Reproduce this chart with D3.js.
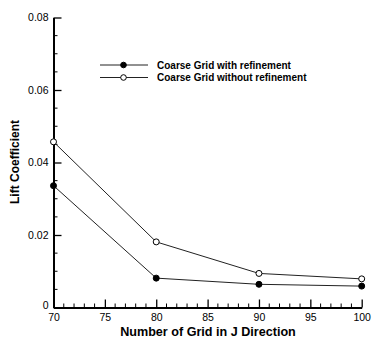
<!DOCTYPE html>
<html>
<head>
<meta charset="utf-8">
<script src="https://cdn.jsdelivr.net/npm/d3@7"></script>
<style>
  html, body { margin: 0; padding: 0; background: #fff; }
  svg { display: block; font-family: "Liberation Sans", Arial, sans-serif; }
</style>
</head>
<body>
<svg id="chart" width="372" height="342"></svg>
<script>
// Grid resolution in the J direction
const gridJ = [70, 80, 90, 100];
// Lift coefficient for each grid
const liftWithRefinement = [0.0336, 0.0081, 0.0064, 0.0059];
const liftWithoutRefinement = [0.0457, 0.0181, 0.0094, 0.0079];
const seriesNames = ["Coarse Grid with refinement", "Coarse Grid without refinement"];
const xTicks = [70, 75, 80, 85, 90, 95, 100];
const yTicks = [0, 0.02, 0.04, 0.06, 0.08];
const yTickLabels = ["0", "0.02", "0.04", "0.06", "0.08"];

const svg = d3.select("#chart");
const x = d3.scaleLinear().domain([70, 100]).range([53.5, 361.7]);
const y = d3.scaleLinear().domain([0, 0.08]).range([307.5, 17.5]);

// Minor ticks (inward)
const g = svg.append("g");
g.selectAll(".xminor").data(d3.range(70, 101, 1).filter(v => v % 5 !== 0))
  .join("line")
  .attr("x1", d => x(d)).attr("x2", d => x(d))
  .attr("y1", y(0)).attr("y2", y(0) - 4)
  .attr("stroke", "#000").attr("stroke-width", 1);
g.selectAll(".yminor").data(d3.range(0, 16).map(i => i * 0.005 + 0.005).filter((v, i) => (i % 4) !== 3))
  .join("line")
  .attr("y1", d => y(d)).attr("y2", d => y(d))
  .attr("x1", x(70)).attr("x2", x(70) + 4)
  .attr("stroke", "#000").attr("stroke-width", 1);

// Axes with inward major ticks
const xAxis = d3.axisBottom(x).tickValues(xTicks).tickSizeInner(-8).tickSizeOuter(0).tickPadding(6)
  .tickFormat(d3.format("d"));
const yAxis = d3.axisLeft(y).tickValues(yTicks).tickSizeInner(-8).tickSizeOuter(0).tickPadding(12)
  .tickFormat((d, i) => yTickLabels[i]);

const gx = svg.append("g").attr("transform", `translate(0,${y(0)})`).call(xAxis);
const gy = svg.append("g").attr("transform", `translate(${x(70)},0)`).call(yAxis);
[gx, gy].forEach(a => {
  a.select(".domain").attr("stroke", "#000").attr("stroke-width", 2);
  a.selectAll(".tick line").attr("stroke", "#000").attr("stroke-width", 1.3);
  a.selectAll(".tick text").attr("font-size", 10.5).attr("fill", "#000")
    .attr("font-family", "Liberation Sans, Arial, sans-serif");
});
gy.selectAll(".tick text").attr("x", -5);
gy.selectAll(".tick").filter(d => d === 0).select("text").attr("dy", "0.1em");

// Axis titles
svg.append("text").attr("x", 208).attr("y", 336).attr("text-anchor", "middle")
  .attr("font-size", 12.6).attr("font-weight", "bold").text("Number of Grid in J Direction");
svg.append("text").attr("transform", "translate(19,162) rotate(-90)").attr("text-anchor", "middle")
  .attr("font-size", 12).attr("font-weight", "bold").text("Lift Coefficient");

// Series lines and markers
const line = d3.line().x((d, i) => x(gridJ[i])).y(d => y(d));
const series = [
  { values: liftWithRefinement, fill: "#000" },
  { values: liftWithoutRefinement, fill: "#fff" }
];
series.forEach(s => {
  svg.append("path").datum(s.values).attr("d", line)
    .attr("fill", "none").attr("stroke", "#222").attr("stroke-width", 1);
  svg.selectAll(null).data(s.values).join("circle")
    .attr("cx", (d, i) => x(gridJ[i])).attr("cy", d => y(d)).attr("r", 3)
    .attr("fill", s.fill).attr("stroke", "#000").attr("stroke-width", 1);
});

// Legend
const legend = svg.append("g");
series.forEach((s, i) => {
  const ly = 65 + i * 12.5;
  legend.append("line").attr("x1", 100).attr("x2", 148).attr("y1", ly).attr("y2", ly)
    .attr("stroke", "#222").attr("stroke-width", 1);
  legend.append("circle").attr("cx", 123.5).attr("cy", ly).attr("r", 2.8)
    .attr("fill", s.fill).attr("stroke", "#000").attr("stroke-width", 1);
  legend.append("text").attr("x", 157).attr("y", ly + 3.5).attr("font-size", 10)
    .attr("font-weight", "bold").text(seriesNames[i]);
});
</script>
</body>
</html>
